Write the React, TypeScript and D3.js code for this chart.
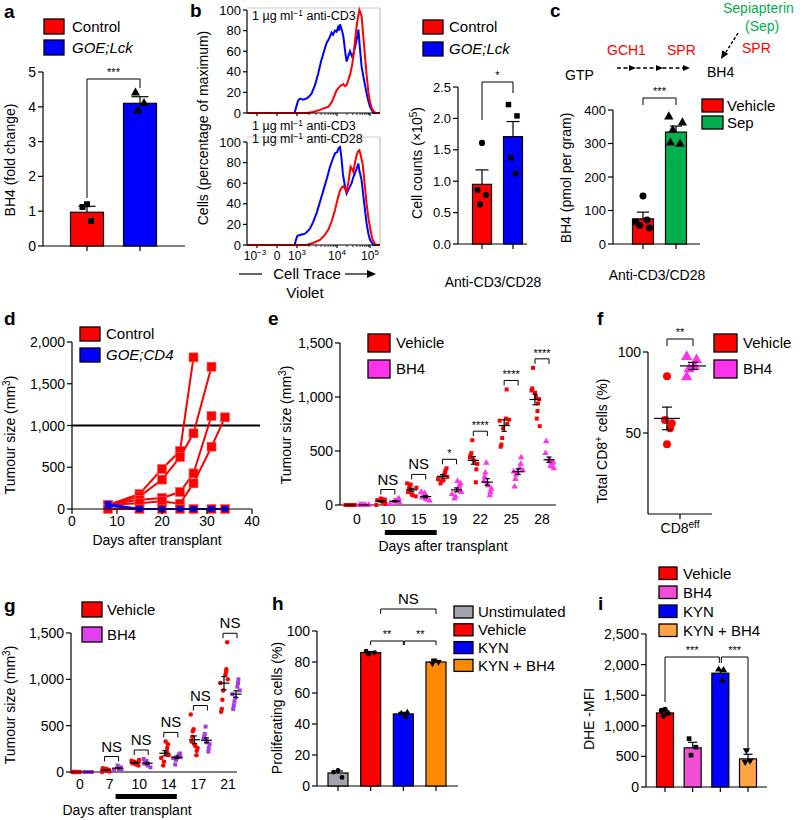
import React from "react";
import * as d3 from "d3";

const FONT = "'Liberation Sans', Arial, Helvetica, sans-serif";

// ===== Panel a =====
const aGroups = ["Control", "GOE;Lck"];
const aMeans = [0.97, 4.1];
const aErrs = [0.17, 0.19];
const aPoints = [[1.2, 1.12, 0.72], [4.4, 4.1, 3.88]];
const aTicks = [0, 1, 2, 3, 4, 5];

// ===== Panel b: histograms (x in display units of the biexponential axis) =====
const bTickPos = [-1, 0, 1, 3, 4.65];
const bTickBase = ["10", "0", "10", "10", "10"];
const bTickExp = ["−3", "", "3", "4", "5"];
const bHistTicks = [0, 20, 40, 60, 80, 100];
const bTopBlue = [[-1.5,0],[0.88,0],[0.95,5],[1.05,12],[1.15,14],[1.3,13],[1.48,14],[1.6,16],[1.73,19],[1.9,27],[2.07,39],[2.2,50],[2.35,60],[2.48,68],[2.6,72],[2.73,78],[2.8,76],[2.9,80],[2.98,79],[3.05,83],[3.1,80],[3.15,86],[3.25,80],[3.32,74],[3.42,58],[3.48,50],[3.58,56],[3.65,60],[3.75,55],[3.82,57],[3.9,64],[3.98,71],[4.07,81],[4.15,62],[4.23,45],[4.35,32],[4.45,22],[4.55,13],[4.65,6],[4.82,0],[5.15,0]];
const bTopRed = [[-1.5,0],[1.48,0],[1.8,1],[2.15,3],[2.4,5],[2.57,6],[2.75,11],[2.98,22],[3.15,26],[3.32,28],[3.4,26],[3.48,27],[3.55,31],[3.65,37],[3.75,46],[3.82,55],[3.9,70],[3.98,84],[4.05,93],[4.12,100],[4.2,96],[4.23,94],[4.3,78],[4.4,55],[4.48,37],[4.57,20],[4.65,11],[4.73,5],[4.85,1],[4.98,0],[5.15,0]];
const bBotBlue = [[-1.5,0],[0.88,0],[0.95,5],[1.02,9],[1.2,10],[1.4,11],[1.52,13],[1.65,16],[1.8,22],[1.98,31],[2.15,42],[2.32,53],[2.5,65],[2.65,76],[2.78,83],[2.9,89],[3.0,90],[3.08,94],[3.15,95],[3.22,85],[3.3,68],[3.4,57],[3.48,50],[3.6,55],[3.73,60],[3.82,66],[3.9,70],[3.98,74],[4.07,79],[4.12,72],[4.23,63],[4.35,42],[4.48,21],[4.57,11],[4.65,5],[4.82,0],[5.15,0]];
const bBotRed = [[-1.5,0],[1.48,0],[1.8,2],[2.15,5],[2.4,10],[2.57,15],[2.75,24],[2.9,34],[3.05,46],[3.15,53],[3.25,56],[3.32,57],[3.42,54],[3.48,52],[3.58,62],[3.68,76],[3.75,74],[3.82,71],[3.9,80],[3.98,87],[4.05,91],[4.12,92],[4.2,86],[4.28,79],[4.38,60],[4.48,40],[4.58,25],[4.68,14],[4.78,5],[4.9,1],[5.0,0],[5.15,0]];

// ===== Panel b: bars =====
const bGroups = ["Control", "GOE;Lck"];
const bMeans = [0.95, 1.71];
const bErrs = [0.23, 0.24];
const bPoints = [[1.61, 0.86, 0.78, 0.63], [2.22, 2.04, 1.37, 1.12]];
const bTicks = [0, 0.5, 1, 1.5, 2, 2.5];

// ===== Panel c =====
const cGroups = ["Vehicle", "Sep"];
const cMeans = [75, 334];
const cErrs = [20, 18];
const cPoints = [[143, 66, 48, 55, 72], [380, 362, 340, 298, 302]];
const cTicks = [0, 100, 200, 300, 400];

// ===== Panel d =====
const dDays = [8, 15, 20, 24, 27, 31, 34];
const dControl = [
  [50, 180, 479, 694, 1816],
  [50, 150, 352, 622, 906, 1704],
  [50, 110, 133, 203, 427, 1114],
  [50, 70, 93, 64, 307, 746, 1098],
  [0, 0, 0, 0, 0, 0, 0],
];
const dGoe = [[60, 0, 0, 0, 0, 0, 0], [40, 0, 0, 0, 0, 0, 0]];
const dXTicks = [0, 10, 20, 30, 40];
const dYTicks = [0, 500, 1000, 1500, 2000];
const dThreshold = 1000;

// ===== Panel e =====
const eDays = ["0", "10", "15", "19", "22", "25", "28"];
const eVehicle = [
  [0, 0, 0, 0, 0, 0, 0, 0],
  [0, 10, 20, 30, 40, 50, 55, 60, 45],
  [80, 90, 100, 120, 150, 170, 190, 200, 160],
  [200, 220, 240, 260, 280, 300, 320, 340, 230],
  [210, 330, 380, 400, 420, 440, 460, 480, 600],
  [540, 560, 620, 710, 780, 790, 800, 1070, 750],
  [730, 800, 870, 940, 980, 1000, 1040, 1060, 1080, 1270],
];
const eBH4 = [
  [0, 0, 0, 0, 0, 0, 0, 0],
  [10, 20, 30, 40, 50, 60, 30, 40],
  [40, 50, 60, 70, 80, 90, 110, 120],
  [60, 80, 100, 120, 140, 160, 180, 200, 220],
  [90, 120, 150, 180, 200, 220, 260, 300, 390],
  [170, 240, 280, 300, 310, 320, 340, 380, 440],
  [340, 360, 380, 390, 400, 410, 420, 480, 590],
];
const eSig = ["", "NS", "NS", "*", "****", "****", "****"];
const eTreat = ["10", "15"];
const eTicks = [0, 500, 1000, 1500];

// ===== Panel f =====
const fVehicle = [85, 58, 56, 53, 43];
const fBH4 = [97, 95, 91, 89.5, 84.5];
const fTicks = [50, 100];

// ===== Panel g =====
const gDays = ["0", "7", "10", "14", "17", "21"];
const gVehicle = [
  [0, 0, 0, 0, 0, 0, 0, 0, 0],
  [0, 5, 10, 15, 20, 25, 30, 35, 40, 20],
  [70, 80, 90, 95, 100, 105, 110, 120, 130, 100],
  [70, 110, 150, 180, 200, 220, 260, 300, 330],
  [180, 230, 260, 280, 300, 330, 380, 440, 460, 620],
  [650, 680, 780, 880, 960, 1000, 1050, 1080, 1110, 1400],
];
const gBH4 = [
  [0, 0, 0, 0, 0, 0, 0, 0],
  [20, 25, 30, 40, 45, 50, 55, 70],
  [50, 70, 80, 90, 100, 110, 120, 140],
  [80, 130, 150, 160, 170, 180, 190, 200],
  [220, 260, 300, 320, 340, 360, 380, 410, 490],
  [680, 720, 760, 800, 840, 880, 920, 960, 1000],
];
const gSig = ["", "NS", "NS", "NS", "NS", "NS"];
const gTreat = ["7", "14"];
const gTicks = [0, 500, 1000, 1500];

// ===== Panel h =====
const hGroups = ["Unstimulated", "Vehicle", "KYN", "KYN + BH4"];
const hMeans = [8.4, 86, 46.5, 80];
const hErrs = [1.3, 0.7, 1.0, 1.0];
const hPoints = [[10, 9, 5.5], [87, 86, 85], [47.5, 46.8, 44.5], [81, 80, 79]];
const hTicks = [0, 20, 40, 60, 80, 100];

// ===== Panel i =====
const iGroups = ["Vehicle", "BH4", "KYN", "KYN + BH4"];
const iMeans = [1210, 640, 1860, 460];
const iErrs = [35, 90, 55, 75];
const iPoints = [[1270, 1250, 1200, 1160], [790, 650, 520], [1910, 1920, 1740], [600, 430, 410]];
const iTicks = [0, 500, 1000, 1500, 2000, 2500];

// ===== colours =====
const RED = "#ff0000";
const BLUE = "#0000ff";
const GREEN = "#00b04f";
const MAGENTA = "#ff33ee";
const PURPLE_LEG = "#e040f0";
const PURPLE_PT = "#a83ce8";
const GREY = "#a3a3aa";
const ORANGE = "#ff8a00";
const LORANGE = "#ffa444";
const PINK = "#f24fd6";

const JIT = [0, -0.9, 0.8, -0.4, 0.5, -0.7, 0.95, 0.2, -0.2, 0.6, -0.55, 0.35];
const fmtComma = d3.format(",");
const fmt1 = d3.format(".1f");

// ===== helpers =====
function YAxis({ scale, x, ticks, fmt = (v: any) => String(v), fs = 13, top, bottom, tl = 5 }: any) {
  const r = scale.range();
  const y0 = bottom ?? r[0];
  const y1 = top ?? r[1];
  return (
    <g>
      <line x1={x} x2={x} y1={y0} y2={y1} stroke="#000" strokeWidth={1.2} />
      {ticks.map((t: number) => (
        <g key={t}>
          <line x1={x - tl} x2={x} y1={scale(t)} y2={scale(t)} stroke="#000" strokeWidth={1.2} />
          <text x={x - tl - 2} y={scale(t)} dy="0.36em" textAnchor="end" fontSize={fs}>{fmt(t)}</text>
        </g>
      ))}
    </g>
  );
}

function XLine({ x1, x2, y, ticks = [], tl = 5 }: any) {
  return (
    <g>
      <line x1={x1} x2={x2} y1={y} y2={y} stroke="#000" strokeWidth={1.2} />
      {ticks.map((tx: number, i: number) => (
        <line key={i} x1={tx} x2={tx} y1={y} y2={y + tl} stroke="#000" strokeWidth={1.2} />
      ))}
    </g>
  );
}

function VLabel({ x, y, fs = 14, children }: any) {
  return (
    <text transform={`translate(${x},${y}) rotate(-90)`} textAnchor="middle" fontSize={fs}>{children}</text>
  );
}

function Letter({ x, y, children }: any) {
  return <text x={x} y={y} fontSize={19} fontWeight="bold">{children}</text>;
}

function Legend({ x, y, items, rw = 20, rh = 15, step = 21, fs = 15, tx = 6 }: any) {
  return (
    <g>
      {items.map((it: any, i: number) => (
        <g key={i}>
          <rect x={x} y={y + i * step} width={rw} height={rh} fill={it.color} stroke="#000" strokeWidth={1.3} />
          <text x={x + rw + tx} y={y + i * step + rh / 2} dy="0.36em" fontSize={fs}
            fontStyle={it.italic ? "italic" : "normal"}>{it.label}</text>
        </g>
      ))}
    </g>
  );
}

function Bracket({ x1, x2, y, l1, l2, label, fs = 11, dyText = -3 }: any) {
  return (
    <g>
      <path d={`M${x1},${l1}V${y}H${x2}V${l2}`} fill="none" stroke="#000" strokeWidth={1} />
      <text x={(x1 + x2) / 2} y={y + dyText} textAnchor="middle" fontSize={fs}>{label}</text>
    </g>
  );
}

const SYMS: any = {
  circle: d3.symbolCircle,
  square: d3.symbolSquare,
  triangle: d3.symbolTriangle,
  triDown: d3.symbolTriangle,
};

function Marker({ shape, x, y, size, fill }: any) {
  const p = d3.symbol(SYMS[shape], size)() as string;
  const rot = shape === "triDown" ? " rotate(180)" : "";
  return <path d={p} transform={`translate(${x},${y})${rot}`} fill={fill} />;
}

function BarGroup({ centers, means, errs, points, colors, width, y, shapes, msize = 30, capW = 12, spread = 5 }: any) {
  const y0 = y(0);
  return (
    <g>
      {centers.map((c: number, i: number) => {
        const top = y(means[i]);
        const et = y(means[i] + errs[i]);
        return (
          <g key={i}>
            <rect x={c - width / 2} y={top} width={width} height={y0 - top} fill={colors[i]} stroke="#000" strokeWidth={1.2} />
            <line x1={c} x2={c} y1={top} y2={et} stroke="#000" strokeWidth={1.2} />
            <line x1={c - capW / 2} x2={c + capW / 2} y1={et} y2={et} stroke="#000" strokeWidth={1.2} />
            {points[i].map((v: number, j: number) => (
              <Marker key={j} shape={shapes[i]} x={c + JIT[(j + i) % JIT.length] * spread} y={y(v)} size={msize} fill="#000" />
            ))}
          </g>
        );
      })}
    </g>
  );
}

function DotGroups({ cats, x, y, off, series, spread = 5, meanW = 11, capW = 5 }: any) {
  return (
    <g>
      {cats.map((c: string, ci: number) =>
        series.map((s: any, si: number) => {
          const vals: number[] = s.data[ci];
          const cx = x(c) + s.side * off;
          const m = d3.mean(vals) as number;
          const sem = vals.length > 1 ? (d3.deviation(vals) || 0) / Math.sqrt(vals.length) : 0;
          return (
            <g key={ci + "-" + si}>
              {vals.map((v, j) => (
                <Marker key={j} shape={s.shape} x={cx + JIT[(j * 5 + ci) % JIT.length] * spread} y={y(v)} size={s.size} fill={s.color} />
              ))}
              <line x1={cx - meanW / 2} x2={cx + meanW / 2} y1={y(m)} y2={y(m)} stroke="#000" strokeWidth={1.2} />
              {sem > 0 && (
                <g>
                  <line x1={cx} x2={cx} y1={y(m - sem)} y2={y(m + sem)} stroke="#000" strokeWidth={1.2} />
                  <line x1={cx - capW / 2} x2={cx + capW / 2} y1={y(m - sem)} y2={y(m - sem)} stroke="#000" strokeWidth={1.2} />
                  <line x1={cx - capW / 2} x2={cx + capW / 2} y1={y(m + sem)} y2={y(m + sem)} stroke="#000" strokeWidth={1.2} />
                </g>
              )}
            </g>
          );
        })
      )}
    </g>
  );
}

function Arrowhead({ x, y, angle, len = 7, w = 6 }: any) {
  const a = (angle * Math.PI) / 180;
  const bx = x - len * Math.cos(a), by = y - len * Math.sin(a);
  const px = -Math.sin(a) * (w / 2), py = Math.cos(a) * (w / 2);
  return <path d={`M${x},${y}L${bx + px},${by + py}L${bx - px},${by - py}Z`} fill="#000" />;
}

// ===== Panels =====
function PanelA() {
  const y = d3.scaleLinear([0, 5], [246, 72]);
  const x = d3.scalePoint(aGroups, [87, 140]);
  const centers = aGroups.map((g) => x(g) as number);
  return (
    <g>
      <Letter x={4} y={18}>a</Letter>
      <Legend x={44} y={19} rw={20} rh={15} step={21} fs={15} tx={8}
        items={[{ label: aGroups[0], color: RED }, { label: aGroups[1], color: BLUE, italic: true }]} />
      <YAxis scale={y} x={43} ticks={aTicks} fs={14} />
      <XLine x1={43} x2={185} y={246} ticks={centers} />
      <BarGroup centers={centers} means={aMeans} errs={aErrs} points={aPoints} colors={[RED, BLUE]}
        width={33} y={y} shapes={["square", "triangle"]} msize={36} capW={17} spread={5} />
      <Bracket x1={centers[0]} x2={centers[1]} y={79} l1={198} l2={88} label="***" />
      <VLabel x={15} y={160} fs={14}>BH4 (fold change)</VLabel>
    </g>
  );
}

function Hist({ y, yTop, yBot, blue, red, showX }: any) {
  const x = d3.scaleLinear([-1.5, 5.15], [247, 380]);
  const line = d3.line<number[]>().x((d) => x(d[0])).y((d) => y(d[1]));
  const minor: number[] = [];
  for (let k = 2; k <= 9; k++) {
    minor.push(1 + 2 * Math.log10(k));
    minor.push(3 + 1.65 * Math.log10(k));
  }
  return (
    <g>
      <line x1={247} x2={380} y1={yTop} y2={yTop} stroke="#ccc" strokeWidth={1} />
      <line x1={380} x2={380} y1={yTop} y2={yBot} stroke="#ccc" strokeWidth={1.5} />
      <path d={line(blue) as string} fill="none" stroke={BLUE} strokeWidth={2} />
      <path d={line(red) as string} fill="none" stroke={RED} strokeWidth={2} />
      <YAxis scale={y} x={247} ticks={bHistTicks} fs={13} tl={4} />
      <XLine x1={247} x2={380} y={yBot} ticks={bTickPos.map((p) => x(p))} tl={3} />
      {minor.map((m, i) => (
        <line key={i} x1={x(m)} x2={x(m)} y1={yBot} y2={yBot + 2} stroke="#000" strokeWidth={0.8} />
      ))}
      {showX &&
        bTickPos.map((p, i) => (
          <text key={i} x={x(p) + (i === 0 ? -2 : 0)} y={yBot + 15} textAnchor="middle" fontSize={12}>
            {bTickBase[i]}
            {bTickExp[i] && <tspan dy={-5} fontSize={8}>{bTickExp[i]}</tspan>}
          </text>
        ))}
    </g>
  );
}

function CondLabel({ x, y, ab }: any) {
  return (
    <text x={x} y={y} fontSize={12.5}>
      1 µg ml<tspan dy={-4} fontSize={8.5}>−1</tspan><tspan dy={4}>{" " + ab}</tspan>
    </text>
  );
}

function PanelBHist() {
  const yT = d3.scaleLinear([0, 100], [113, 10]);
  const yB = d3.scaleLinear([0, 100], [245, 142]);
  return (
    <g>
      <Letter x={190} y={17}>b</Letter>
      <Hist y={yT} yTop={8} yBot={113} blue={bTopBlue} red={bTopRed} showX={false} />
      <Hist y={yB} yTop={137} yBot={245} blue={bBotBlue} red={bBotRed} showX={true} />
      <CondLabel x={252} y={20} ab="anti-CD3" />
      <CondLabel x={252} y={130} ab="anti-CD3" />
      <CondLabel x={252} y={143} ab="anti-CD28" />
      <VLabel x={208} y={128} fs={14}>Cells (percentage of maximum)</VLabel>
      <line x1={239} x2={262} y1={274} y2={274} stroke="#000" strokeWidth={1.2} />
      <text x={307} y={279} textAnchor="middle" fontSize={15}>Cell Trace</text>
      <line x1={345} x2={368} y1={274} y2={274} stroke="#000" strokeWidth={1.2} />
      <Arrowhead x={376} y={274} angle={0} len={9} w={8} />
      <text x={305} y={298} textAnchor="middle" fontSize={15}>Violet</text>
    </g>
  );
}

function PanelBBars() {
  const y = d3.scaleLinear([0, 2.5], [244, 87]);
  const x = d3.scalePoint(bGroups, [482, 513]);
  const centers = bGroups.map((g) => x(g) as number);
  return (
    <g>
      <Legend x={423} y={20} rw={20} rh={14} step={22} fs={15} tx={6}
        items={[{ label: bGroups[0], color: RED }, { label: bGroups[1], color: BLUE, italic: true }]} />
      <YAxis scale={y} x={458} ticks={bTicks} fmt={fmt1} fs={13} />
      <XLine x1={458} x2={527} y={244} ticks={centers} />
      <BarGroup centers={centers} means={bMeans} errs={bErrs} points={bPoints} colors={[RED, BLUE]}
        width={19} y={y} shapes={["circle", "square"]} msize={30} capW={13} spread={5} />
      <Bracket x1={centers[0]} x2={centers[1]} y={82} l1={120} l2={93} label="*" />
      <VLabel x={422} y={163} fs={14}>
        Cell counts (×10<tspan dy={-5} fontSize={10}>5</tspan><tspan dy={5}>)</tspan>
      </VLabel>
      <text x={493} y={287} textAnchor="middle" fontSize={14}>Anti-CD3/CD28</text>
    </g>
  );
}

function PanelC() {
  const y = d3.scaleLinear([0, 400], [244, 110]);
  const x = d3.scalePoint(cGroups, [643, 676]);
  const centers = cGroups.map((g) => x(g) as number);
  return (
    <g>
      <Letter x={550} y={17}>c</Letter>
      {/* pathway diagram */}
      <text x={565} y={80} fontSize={14}>GTP</text>
      <text x={607} y={55} fontSize={14} fill={RED}>GCH1</text>
      <text x={667} y={55} fontSize={14} fill={RED}>SPR</text>
      <line x1={617} x2={684} y1={68} y2={68} stroke="#000" strokeWidth={1.4} strokeDasharray="4 2.5" />
      <Arrowhead x={636} y={68} angle={0} />
      <Arrowhead x={663} y={68} angle={0} />
      <Arrowhead x={690} y={68} angle={0} />
      <text x={707} y={77} fontSize={14}>BH4</text>
      <text x={723} y={13} fontSize={14} fill={GREEN}>Sepiapterin</text>
      <text x={745} y={31} fontSize={14} fill={GREEN}>(Sep)</text>
      <text x={742} y={53} fontSize={14} fill={RED}>SPR</text>
      <line x1={738} x2={726} y1={33} y2={52} stroke="#000" strokeWidth={1.4} strokeDasharray="3 2" />
      <Arrowhead x={721} y={59} angle={122} len={8} w={7} />
      {/* bars */}
      <Legend x={702} y={99} rw={21} rh={13} step={17} fs={15} tx={4}
        items={[{ label: cGroups[0], color: RED }, { label: cGroups[1], color: GREEN }]} />
      <YAxis scale={y} x={613} ticks={cTicks} fs={13} />
      <XLine x1={613} x2={700} y={244} ticks={centers} />
      <BarGroup centers={centers} means={cMeans} errs={cErrs} points={cPoints} colors={[RED, GREEN]}
        width={21} y={y} shapes={["circle", "triangle"]} msize={38} capW={12} spread={8} />
      <Bracket x1={centers[0]} x2={centers[1]} y={98} l1={105} l2={105} label="***" />
      <VLabel x={571} y={178} fs={14}>BH4 (pmol per gram)</VLabel>
      <text x={657} y={280} textAnchor="middle" fontSize={14}>Anti-CD3/CD28</text>
    </g>
  );
}

function PanelD() {
  const x = d3.scaleLinear([0, 40], [72, 252]);
  const y = d3.scaleLinear([0, 2000], [509, 342]);
  const line = d3.line<number>().x((_, i) => x(dDays[i])).y((d) => y(d));
  return (
    <g>
      <Letter x={4} y={325}>d</Letter>
      <line x1={72} x2={260} y1={y(dThreshold)} y2={y(dThreshold)} stroke="#000" strokeWidth={2} />
      {dControl.map((s, i) => (
        <g key={"c" + i}>
          <path d={line(s) as string} fill="none" stroke={RED} strokeWidth={2} />
          {s.map((v, j) => (
            <rect key={j} x={x(dDays[j]) - 4.5} y={y(v) - 4.5} width={9} height={9} fill={RED} stroke="#ff6060" strokeWidth={0.6} />
          ))}
        </g>
      ))}
      {dGoe.map((s, i) => (
        <g key={"g" + i}>
          <path d={line(s) as string} fill="none" stroke={BLUE} strokeWidth={2} />
          {s.map((v, j) => (
            <rect key={j} x={x(dDays[j]) - 3} y={y(v) - 3} width={6} height={6} fill={BLUE} />
          ))}
        </g>
      ))}
      <YAxis scale={y} x={72} ticks={dYTicks} fmt={fmtComma} fs={14} />
      <XLine x1={72} x2={252} y={509} ticks={dXTicks.map((t) => x(t))} />
      {dXTicks.map((t) => (
        <text key={t} x={x(t)} y={526} textAnchor="middle" fontSize={14}>{t}</text>
      ))}
      <Legend x={80} y={327} rw={20} rh={14} step={21} fs={15} tx={6}
        items={[{ label: "Control", color: RED }, { label: "GOE;CD4", color: BLUE, italic: true }]} />
      <VLabel x={15} y={435} fs={14}>
        Tumour size (mm<tspan dy={-5} fontSize={10}>3</tspan><tspan dy={5}>)</tspan>
      </VLabel>
      <text x={157} y={545} textAnchor="middle" fontSize={14}>Days after transplant</text>
    </g>
  );
}

function PanelE() {
  const x = d3.scalePoint(eDays, [357, 542]);
  const y = d3.scaleLinear([0, 1500], [505, 343]);
  const off = 7;
  return (
    <g>
      <Letter x={268} y={325}>e</Letter>
      <YAxis scale={y} x={340} ticks={eTicks} fmt={fmtComma} fs={14} />
      <XLine x1={340} x2={556} y={505} />
      <DotGroups cats={eDays} x={x} y={y} off={off} spread={5}
        series={[
          { data: eVehicle, color: RED, shape: "square", size: 16, side: -1 },
          { data: eBH4, color: MAGENTA, shape: "triangle", size: 18, side: 1 },
        ]} />
      {eDays.map((d, i) => {
        if (!eSig[i]) return null;
        const mx = Math.max(d3.max(eVehicle[i]) as number, d3.max(eBH4[i]) as number);
        const by = y(mx) - 9;
        const cx = x(d) as number;
        const ns = eSig[i] === "NS";
        return (
          <Bracket key={d} x1={cx - off} x2={cx + off} y={by} l1={by + 5} l2={by + 5}
            label={eSig[i]} fs={ns ? 15 : 11} dyText={ns ? -5 : -2} />
        );
      })}
      {eDays.map((d) => (
        <text key={d} x={x(d)} y={524} textAnchor="middle" fontSize={14}>{d}</text>
      ))}
      <rect x={(x(eTreat[0]) as number) - 3} y={530} width={(x(eTreat[1]) as number) - (x(eTreat[0]) as number) + 21} height={5} fill="#000" />
      <Legend x={368} y={334} rw={22} rh={18} step={26} fs={15} tx={6}
        items={[{ label: "Vehicle", color: RED }, { label: "BH4", color: MAGENTA }]} />
      <VLabel x={291} y={425} fs={14}>
        Tumour size (mm<tspan dy={-5} fontSize={10}>3</tspan><tspan dy={5}>)</tspan>
      </VLabel>
      <text x={443} y={551} textAnchor="middle" fontSize={14}>Days after transplant</text>
    </g>
  );
}

function PanelF() {
  const y = d3.scaleLinear([0, 100], [514, 352]);
  const xV = 667, xB = 693;
  const stat = (vals: number[]) => {
    const m = d3.mean(vals) as number;
    const s = (d3.deviation(vals) as number) / Math.sqrt(vals.length);
    return [m, s];
  };
  const [mV, sV] = stat(fVehicle);
  const [mB, sB] = stat(fBH4);
  const ErrMark = ({ cx, m, s }: any) => (
    <g>
      <line x1={cx - 13} x2={cx + 13} y1={y(m)} y2={y(m)} stroke="#000" strokeWidth={1.2} />
      <line x1={cx} x2={cx} y1={y(m - s)} y2={y(m + s)} stroke="#000" strokeWidth={1.2} />
      <line x1={cx - 5} x2={cx + 5} y1={y(m - s)} y2={y(m - s)} stroke="#000" strokeWidth={1.2} />
      <line x1={cx - 5} x2={cx + 5} y1={y(m + s)} y2={y(m + s)} stroke="#000" strokeWidth={1.2} />
    </g>
  );
  return (
    <g>
      <Letter x={597} y={325}>f</Letter>
      <YAxis scale={y} x={648} ticks={fTicks} fs={14} />
      <XLine x1={648} x2={712} y={514} ticks={[680]} />
      {fVehicle.map((v, i) => (
        <Marker key={i} shape="circle" x={xV + JIT[i * 3 % JIT.length] * 5} y={y(v)} size={50} fill={RED} />
      ))}
      {fBH4.map((v, i) => (
        <Marker key={i} shape="triangle" x={xB + JIT[(i * 3 + 1) % JIT.length] * 7} y={y(v)} size={55} fill={MAGENTA} />
      ))}
      <ErrMark cx={xV} m={mV} s={sV} />
      <ErrMark cx={xB} m={mB} s={sB} />
      <Bracket x1={xV} x2={xB} y={339} l1={346} l2={346} label="**" />
      <Legend x={714} y={334} rw={23} rh={18} step={26} fs={15} tx={6}
        items={[{ label: "Vehicle", color: RED }, { label: "BH4", color: MAGENTA }]} />
      <VLabel x={607} y={441} fs={14}>
        Total CD8<tspan dy={-5} fontSize={10}>+</tspan><tspan dy={5}> cells (%)</tspan>
      </VLabel>
      <text x={680} y={533} textAnchor="middle" fontSize={14}>
        CD8<tspan dy={-5} fontSize={10}>eff</tspan>
      </text>
    </g>
  );
}

function PanelG() {
  const x = d3.scalePoint(gDays, [82, 230]);
  const y = d3.scaleLinear([0, 1500], [772, 633]);
  const off = 6;
  return (
    <g>
      <Letter x={4} y={612}>g</Letter>
      <YAxis scale={y} x={71} ticks={gTicks} fmt={fmtComma} fs={14} />
      <XLine x1={71} x2={237} y={772} />
      <DotGroups cats={gDays} x={x} y={y} off={off} spread={4}
        series={[
          { data: gVehicle, color: RED, shape: "circle", size: 16, side: -1 },
          { data: gBH4, color: PURPLE_PT, shape: "square", size: 16, side: 1 },
        ]} />
      {gDays.map((d, i) => {
        if (!gSig[i]) return null;
        const mx = Math.max(d3.max(gVehicle[i]) as number, d3.max(gBH4[i]) as number);
        const by = y(mx) - 9;
        const cx = x(d) as number;
        return (
          <Bracket key={d} x1={cx - off - 1} x2={cx + off + 1} y={by} l1={by + 5} l2={by + 5}
            label={gSig[i]} fs={15} dyText={-5} />
        );
      })}
      {gDays.map((d) => (
        <text key={d} x={(x(d) as number) - 2} y={789} textAnchor="middle" fontSize={14}>{d}</text>
      ))}
      <rect x={(x(gTreat[0]) as number) + 4} y={794} width={(x(gTreat[1]) as number) - (x(gTreat[0]) as number) + 2} height={5} fill="#000" />
      <Legend x={82} y={602} rw={20} rh={15} step={25} fs={15} tx={5}
        items={[{ label: "Vehicle", color: RED }, { label: "BH4", color: PURPLE_LEG }]} />
      <VLabel x={15} y={705} fs={14}>
        Tumour size (mm<tspan dy={-5} fontSize={10}>3</tspan><tspan dy={5}>)</tspan>
      </VLabel>
      <text x={127} y={815} textAnchor="middle" fontSize={14}>Days after transplant</text>
    </g>
  );
}

function PanelH() {
  const y = d3.scaleLinear([0, 100], [786, 631]);
  const x = d3.scalePoint(hGroups, [338, 436]);
  const centers = hGroups.map((g) => x(g) as number);
  return (
    <g>
      <Letter x={272} y={610}>h</Letter>
      <YAxis scale={y} x={317} ticks={hTicks} fs={14} />
      <XLine x1={317} x2={458} y={786} ticks={centers} />
      <BarGroup centers={centers} means={hMeans} errs={hErrs} points={hPoints} colors={[GREY, RED, BLUE, ORANGE]}
        width={20} y={y} shapes={["circle", "circle", "triangle", "triDown"]} msize={18} capW={10} spread={5} />
      <Bracket x1={centers[1]} x2={centers[2]} y={641} l1={645} l2={645} label="**" />
      <Bracket x1={centers[2] + 1} x2={centers[3]} y={641} l1={645} l2={645} label="**" />
      <Bracket x1={centers[1] + 10} x2={centers[3]} y={609} l1={614} l2={614} label="NS" fs={15} dyText={-5} />
      <Legend x={454} y={606} rw={19} rh={12} step={17.8} fs={15} tx={5}
        items={hGroups.map((g, i) => ({ label: g, color: [GREY, RED, BLUE, ORANGE][i] }))} />
      <VLabel x={282} y={708} fs={14}>Proliferating cells (%)</VLabel>
    </g>
  );
}

function PanelI() {
  const y = d3.scaleLinear([0, 2500], [787, 634]);
  const x = d3.scalePoint(iGroups, [665, 748]);
  const centers = iGroups.map((g) => x(g) as number);
  return (
    <g>
      <Letter x={598} y={610}>i</Letter>
      <YAxis scale={y} x={646} ticks={iTicks} fmt={fmtComma} fs={14} />
      <XLine x1={646} x2={767} y={787} ticks={centers} />
      <BarGroup centers={centers} means={iMeans} errs={iErrs} points={iPoints} colors={[RED, PINK, BLUE, LORANGE]}
        width={17} y={y} shapes={["circle", "square", "triangle", "triDown"]} msize={22} capW={9} spread={4} />
      <Bracket x1={centers[0]} x2={centers[2] - 1} y={657} l1={702} l2={663} label="***" />
      <Bracket x1={centers[2] + 1} x2={centers[3]} y={657} l1={663} l2={752} label="***" />
      <Legend x={659} y={567} rw={18} rh={12.5} step={19} fs={15} tx={6}
        items={iGroups.map((g, i) => ({ label: g, color: [RED, PINK, BLUE, LORANGE][i] }))} />
      <VLabel x={594} y={719} fs={14}>DHE -MFI</VLabel>
    </g>
  );
}

export default function App() {
  return (
    <svg width={800} height={820} viewBox="0 0 800 820"
      style={{ position: "absolute", left: 0, top: 0, background: "#fff" }}
      fontFamily={FONT}>
      <rect x={0} y={0} width={800} height={820} fill="#fff" />
      <PanelA />
      <PanelBHist />
      <PanelBBars />
      <PanelC />
      <PanelD />
      <PanelE />
      <PanelF />
      <PanelG />
      <PanelH />
      <PanelI />
    </svg>
  );
}
